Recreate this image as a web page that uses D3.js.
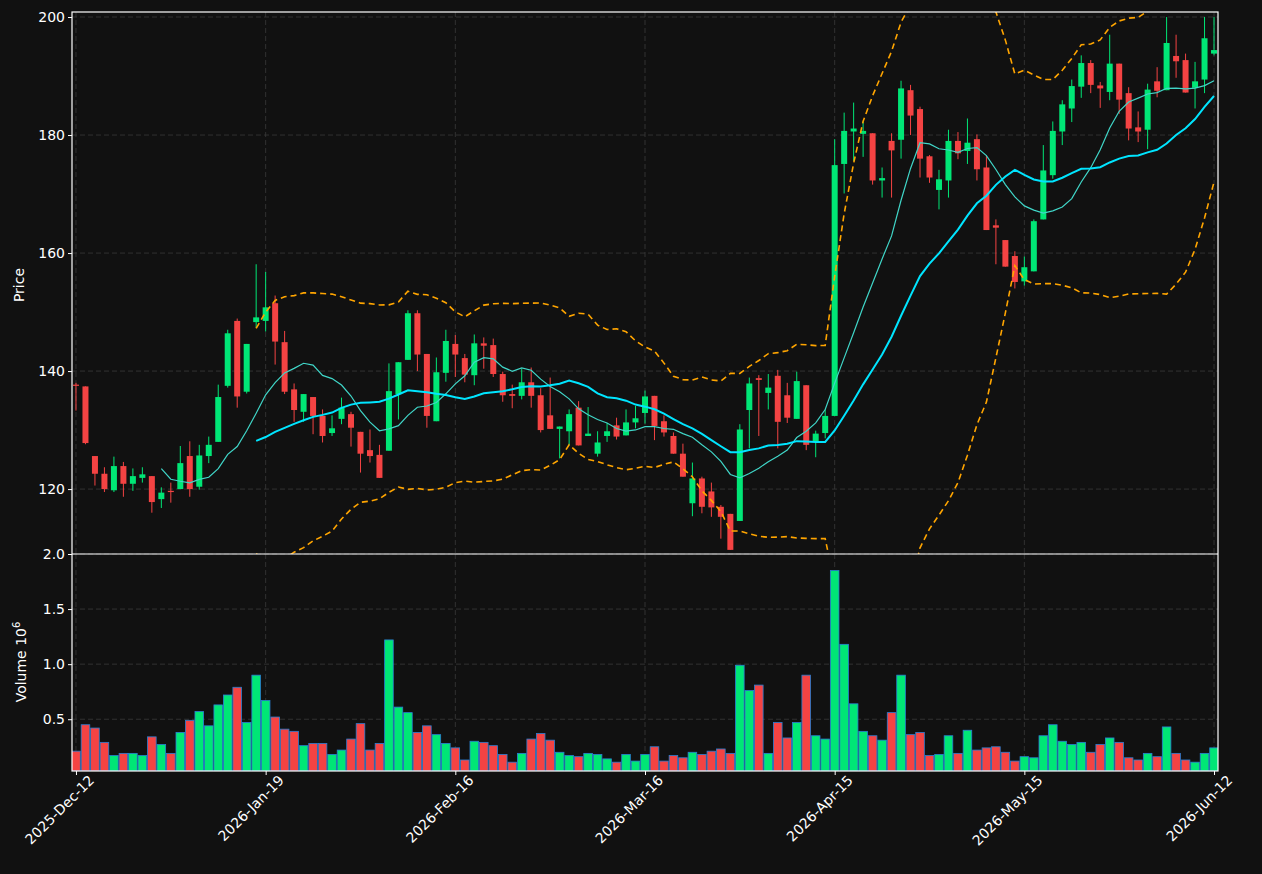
<!DOCTYPE html>
<html>
<head>
<meta charset="utf-8">
<script src="https://cdn.jsdelivr.net/npm/d3@7"></script>
<style>
  body { margin: 0; background: #111111; }
  text { font-family: "DejaVu Sans", sans-serif; }
</style>
</head>
<body>
<svg id="chart" width="1262" height="874"></svg>
<script>
// candle data, one entry per session
var opens = [137.7,137.4,125.6,122.6,119.8,123.9,120.9,121.9,122.2,118.3,119.7,120.0,125.6,120.4,125.6,128.0,137.5,148.5,136.5,148.3,
  148.5,151.5,144.9,136.9,133.1,135.6,132.4,129.5,131.9,132.7,129.7,126.6,125.8,126.5,136.1,141.9,149.8,142.9,131.5,139.7,
  144.6,142.2,139.3,144.7,144.4,139.5,136.1,135.8,138.1,135.9,132.5,130.2,129.8,133.8,129.0,126.0,129.0,130.8,129.1,131.3,
  132.9,135.8,131.5,129.0,126.0,117.6,121.8,119.6,117.0,115.8,114.6,133.4,138.8,136.3,139.2,135.9,131.9,137.6,128.1,129.5,
  132.4,175.1,180.6,180.2,180.3,172.3,179.0,179.2,187.6,184.4,176.4,170.7,172.3,179.0,177.3,179.3,174.5,164.7,162.2,159.5,
  155.2,156.9,165.7,173.2,180.6,184.5,188.2,192.2,188.4,187.3,192.1,187.1,181.3,180.9,189.1,187.6,193.4,192.7,188.0,189.4,193.8];
var closes = [137.5,127.8,122.6,120.0,123.9,120.9,122.2,122.5,117.8,119.4,119.6,124.4,120.0,125.7,127.5,135.6,146.4,135.7,144.6,149.1,
  150.8,145.0,136.5,133.4,136.1,132.4,129.0,130.3,133.8,130.4,126.0,125.6,121.9,136.6,141.5,149.8,142.8,132.4,139.8,145.1,
  142.8,139.4,144.7,144.3,139.5,135.9,135.8,138.1,135.8,130.0,130.2,130.6,132.7,127.4,129.4,127.9,129.8,128.9,131.3,132.0,
  135.7,130.7,129.6,126.0,122.1,121.8,117.0,116.9,115.3,109.7,130.1,137.9,138.5,137.2,131.4,132.1,138.3,127.5,129.4,132.4,
  174.9,180.7,181.1,180.7,172.3,172.7,177.4,187.9,183.3,176.0,172.8,172.5,179.0,176.9,178.7,174.2,163.9,164.3,157.7,155.1,
  157.6,165.4,174.0,180.7,185.2,188.3,192.2,188.5,187.9,192.1,186.0,181.1,180.6,187.7,187.5,195.6,192.5,187.2,189.1,196.4,194.4];
var highs = [138.0,137.4,125.6,123.7,125.5,124.6,123.5,123.7,122.2,120.3,121.1,127.3,128.1,127.5,128.9,137.7,147.0,148.9,144.6,158.1,
  156.8,152.8,146.8,137.9,136.1,135.6,133.5,132.5,135.5,133.1,129.7,130.1,127.5,141.3,141.5,150.3,150.3,142.9,142.3,147.0,
  146.1,142.9,146.2,145.7,145.5,139.9,137.7,140.4,140.6,137.1,138.9,130.6,133.5,134.9,133.9,129.8,131.2,132.1,133.5,134.1,
  136.7,135.8,132.5,129.6,127.7,124.5,122.1,121.1,117.3,115.8,131.0,138.9,139.3,139.5,140.2,138.0,139.9,137.6,129.9,133.5,
  179.3,183.8,185.5,182.3,180.3,174.5,180.3,189.2,188.5,184.8,176.6,174.1,180.9,180.5,182.8,180.1,176.6,165.7,162.2,160.3,
  159.4,165.7,178.3,182.3,185.9,189.4,193.5,192.7,189.0,197.0,192.1,188.1,184.0,188.7,191.5,200.0,197.0,193.8,192.4,200.0,200.0];
var lows = [133.3,127.6,120.6,119.5,119.5,118.7,119.7,121.1,116.0,116.8,117.7,120.0,118.7,119.9,124.4,128.0,137.2,133.8,136.2,147.3,
  146.7,141.1,136.1,131.4,131.4,129.3,127.9,129.0,131.0,127.2,122.8,124.5,121.9,126.5,131.8,141.9,140.0,130.4,131.5,138.2,
  139.0,138.1,137.6,140.4,139.0,134.8,133.7,135.2,133.8,129.6,130.2,125.2,127.4,127.4,129.0,125.5,128.0,128.4,129.1,130.3,
  131.1,128.3,128.9,126.0,122.1,115.4,115.9,115.3,111.6,109.7,114.6,126.9,129.0,133.5,126.9,131.2,131.9,126.6,125.4,128.6,
  132.4,170.1,175.6,176.3,171.6,169.4,169.4,176.0,180.0,172.8,171.9,167.4,169.4,175.9,175.1,172.3,163.9,158.1,157.7,154.0,
  154.5,156.9,165.7,172.6,178.3,182.2,186.3,187.1,184.6,185.9,183.6,179.1,178.8,177.6,186.4,187.6,189.7,187.2,184.5,187.1,193.5];
var volumes = [0.21,0.45,0.42,0.29,0.17,0.19,0.19,0.17,0.34,0.27,0.19,0.38,0.49,0.57,0.44,0.63,0.72,0.79,0.47,0.90,
  0.67,0.52,0.41,0.39,0.26,0.28,0.28,0.18,0.22,0.32,0.46,0.22,0.28,1.22,0.61,0.56,0.38,0.44,0.36,0.28,
  0.24,0.13,0.30,0.29,0.26,0.18,0.11,0.19,0.32,0.37,0.31,0.20,0.17,0.16,0.19,0.18,0.14,0.11,0.18,0.12,
  0.18,0.25,0.12,0.17,0.15,0.20,0.18,0.21,0.23,0.19,0.99,0.76,0.81,0.19,0.47,0.33,0.47,0.90,0.35,0.32,
  1.85,1.18,0.64,0.39,0.35,0.31,0.56,0.90,0.36,0.38,0.17,0.18,0.35,0.19,0.40,0.22,0.24,0.25,0.20,0.12,
  0.16,0.15,0.35,0.45,0.30,0.27,0.29,0.20,0.27,0.33,0.29,0.15,0.13,0.19,0.16,0.43,0.19,0.13,0.11,0.19,0.24];
var tickIdx = [0, 20, 40, 60, 80, 100, 120];
var tickLabels = ["2025-Dec-12","2026-Jan-19","2026-Feb-16","2026-Mar-16","2026-Apr-15","2026-May-15","2026-Jun-12"];
var priceTicks = [120, 140, 160, 180, 200];
var volTicks = [0.5, 1.0, 1.5, 2.0];

var UP = "#00e676", DOWN = "#f44343";
var L = 72, R = 1218, T = 12, MID = 554, B = 771;
var svg = d3.select("#chart");
var n = closes.length;

var x = d3.scaleLinear().domain([-0.42, n - 1 + 0.42]).range([L, R]);
var y = d3.scaleLinear().domain([109, 200.85]).range([MID, T]);
var yv = d3.scaleLinear().domain([0.03, 2.0]).range([B, MID]);

svg.append("rect").attr("width", 1262).attr("height", 874).attr("fill", "#111111");
var defs = svg.append("defs");
defs.append("clipPath").attr("id", "cp").append("rect").attr("x", L).attr("y", T).attr("width", R - L).attr("height", MID - T);
defs.append("clipPath").attr("id", "cv").append("rect").attr("x", L).attr("y", MID).attr("width", R - L).attr("height", B - MID);

// grids
function grid(g, ys, y0, y1) {
  g.selectAll(".h").data(ys).enter().append("line")
    .attr("x1", L).attr("x2", R).attr("y1", d => d).attr("y2", d => d);
  g.selectAll(".v").data(tickIdx).enter().append("line")
    .attr("x1", d => x(d)).attr("x2", d => x(d)).attr("y1", y0).attr("y2", y1);
  g.selectAll("line").attr("stroke", "#3a3a3a").attr("stroke-dasharray", "5,3").attr("stroke-width", 0.8);
}
grid(svg.append("g"), priceTicks.map(y), T, MID);
grid(svg.append("g"), volTicks.map(yv), MID, B);

// moving averages and bands
function sma(w) {
  return closes.map((c, i) => i < w - 1 ? null : d3.mean(closes.slice(i - w + 1, i + 1)));
}
var ma10 = sma(10), ma20 = sma(20);
var upper = [], lower = [];
closes.forEach((c, i) => {
  if (i < 19) { upper.push(null); lower.push(null); return; }
  var s = closes.slice(i - 19, i + 1), m = ma20[i];
  var sd = Math.sqrt(d3.mean(s, v => (v - m) * (v - m)));
  upper.push(m + 2 * sd); lower.push(m - 2 * sd);
});
var line = d3.line().defined(d => d != null).x((d, i) => x(i)).y(d => y(d));
var pg = svg.append("g").attr("clip-path", "url(#cp)");

// candles
var cg = pg.append("g");
d3.range(n).forEach(i => {
  var col = closes[i] >= opens[i] ? UP : DOWN;
  cg.append("line").attr("x1", x(i)).attr("x2", x(i)).attr("y1", y(highs[i])).attr("y2", y(lows[i]))
    .attr("stroke", col).attr("stroke-width", 1);
  var top = y(Math.max(opens[i], closes[i])), bot = y(Math.min(opens[i], closes[i]));
  cg.append("rect").attr("x", x(i) - 3).attr("width", 6).attr("y", top).attr("height", Math.max(bot - top, 1.2))
    .attr("fill", col);
});

pg.append("path").attr("d", line(ma10)).attr("fill", "none").attr("stroke", "#40d6c8").attr("stroke-width", 1.2);
pg.append("path").attr("d", line(ma20)).attr("fill", "none").attr("stroke", "#00e5ff").attr("stroke-width", 2);
[upper, lower].forEach(b => {
  pg.append("path").attr("d", line(b)).attr("fill", "none").attr("stroke", "#ffa500")
    .attr("stroke-width", 1.6).attr("stroke-dasharray", "6,4");
});

// volume
var vg = svg.append("g").attr("clip-path", "url(#cv)");
vg.selectAll("rect").data(volumes).enter().append("rect")
  .attr("x", (d, i) => x(i) - 4.3).attr("width", 8.6)
  .attr("y", d => yv(d)).attr("height", d => B - yv(d))
  .attr("fill", (d, i) => closes[i] >= opens[i] ? UP : DOWN)
  .attr("stroke", "#2a7fd4").attr("stroke-width", 0.8);

// frames
svg.append("rect").attr("x", L).attr("y", T).attr("width", R - L).attr("height", B - T)
  .attr("fill", "none").attr("stroke", "#ffffff").attr("stroke-width", 1.2);
svg.append("line").attr("x1", L).attr("x2", R).attr("y1", MID).attr("y2", MID).attr("stroke", "#ffffff").attr("stroke-width", 1.2);

// axes
var fmtP = d3.format("d"), fmtV = d3.format(".1f");
var ax1 = svg.append("g").attr("transform", "translate(" + L + ",0)")
  .call(d3.axisLeft(y).tickValues(priceTicks).tickFormat(fmtP).tickSize(4));
var ax2 = svg.append("g").attr("transform", "translate(" + L + ",0)")
  .call(d3.axisLeft(yv).tickValues(volTicks).tickFormat(fmtV).tickSize(4));
var ax3 = svg.append("g").attr("transform", "translate(0," + B + ")")
  .call(d3.axisBottom(x).tickValues(tickIdx).tickFormat((d, i) => tickLabels[i]).tickSize(4));
[ax1, ax2, ax3].forEach(a => {
  a.select(".domain").remove();
  a.selectAll("line").attr("stroke", "#ffffff");
  a.selectAll("text").attr("fill", "#ffffff").style("font-size", "14px");
});
ax3.selectAll("text").attr("text-anchor", "end").attr("x", 6).attr("y", 12).attr("dy", "0.6em")
  .attr("transform", "rotate(-45)");

svg.append("text").attr("transform", "translate(24,285) rotate(-90)").attr("text-anchor", "middle")
  .attr("fill", "#fff").style("font-size", "14px").text("Price");
svg.append("text").attr("transform", "translate(26,662) rotate(-90)").attr("text-anchor", "middle")
  .attr("fill", "#fff").style("font-size", "14px")
  .html('Volume  10<tspan dy="-6" font-size="10">6</tspan>');
</script>
</body>
</html>
